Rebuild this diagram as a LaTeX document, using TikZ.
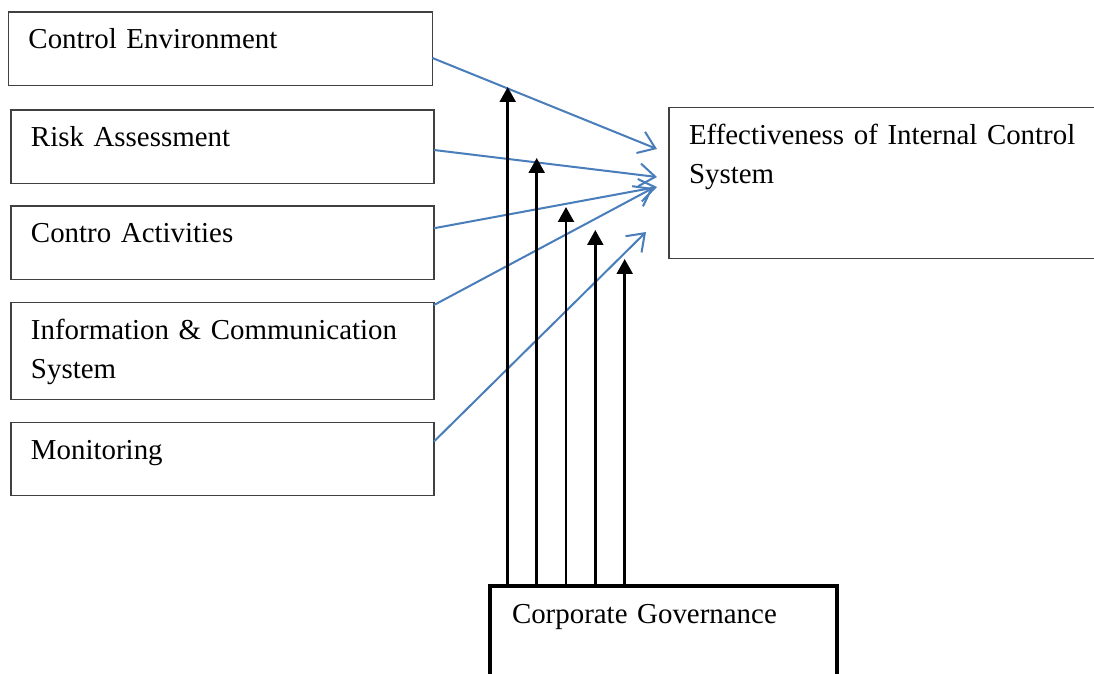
\documentclass[tikz,border=0pt]{standalone}
\usepackage{fontspec}
\setmainfont{Liberation Serif}
\usetikzlibrary{arrows.meta}
\tikzset{>=latex}
\definecolor{Linkcol}{HTML}{4A7EBB}
\colorlet{Boxcol}{black!75}

\begin{document}
\begin{tikzpicture}[x=0.02cm, y=-0.02cm,
    every node/.style={font=\fontsize{16.45}{22.3}\selectfont},
    box/.style={draw=Boxcol, line width=0.75pt, anchor=north west, align=left, outer sep=0pt,
        inner xsep=0.4cm, inner ysep=0pt, text height=0.74cm, text depth=0.73cm},
    link/.style={Linkcol, line width=1.15pt, -{Straight Barb[length=9pt,width=13pt]}},
    push/.style={line width=1.5pt, -{Triangle[length=8.5pt,width=9pt]}}]
    \useasboundingbox (0,0) rectangle (1094,673);
    \clip (0,0) rectangle (1094,673);

    % components on the left
    \node[box, text width=7.68cm] (ce) at (8.5,12) {Control Environment};
    \node[box, text width=7.66cm] (ra) at (11,110) {Risk Assessment};
    \node[box, text width=7.66cm] (ca) at (11,206) {Contro Activities};
    \node[box, text width=7.66cm, text depth=1.21cm] (ic) at (11,302.3) {Information \& Communication\\System};
    \node[box, text width=7.66cm] (mon) at (11,422.3) {Monitoring};

    % outcome, runs past the right edge
    \node[box, text width=8.4cm, text depth=2.28cm] (eff) at (669,107.7) {Effectiveness of Internal Control\\System};

    % moderator, runs past the bottom edge
    \node[box, draw=black, line width=2.6pt, inner xsep=0.44cm, text width=6.06cm, text depth=2cm] (cg) at (490,586) {Corporate Governance};

    % arrow ends
    \coordinate (e1) at (657,149);
    \coordinate (e2) at (657,177);
    \coordinate (e3) at (657,187);
    \coordinate (e4) at (653,188);
    \coordinate (e5) at (646,232);
    \coordinate (t1) at (507.7,87);
    \coordinate (t2) at (536.7,158);
    \coordinate (t3) at (566,207);
    \coordinate (t4) at (595.3,230);
    \coordinate (t5) at (624.7,259);

    \draw[link] ([yshift=-0.185cm]ce.east) -- (e1);
    \draw[link] ([yshift=-0.065cm]ra.east) -- (e2);
    \draw[link] ([yshift=0.29cm]ca.east) -- (e3);
    \draw[link] ([yshift=-0.055cm]ic.north east) -- (e4);
    \draw[link] ([yshift=0.35cm]mon.east) -- (e5);

    \draw[push] (t1 |- cg.north) -- (t1);
    \draw[push] (t2 |- cg.north) -- (t2);
    \draw[push] (t3 |- cg.north) -- (t3);
    \draw[push] (t4 |- cg.north) -- (t4);
    \draw[push] (t5 |- cg.north) -- (t5);
\end{tikzpicture}
\end{document}
